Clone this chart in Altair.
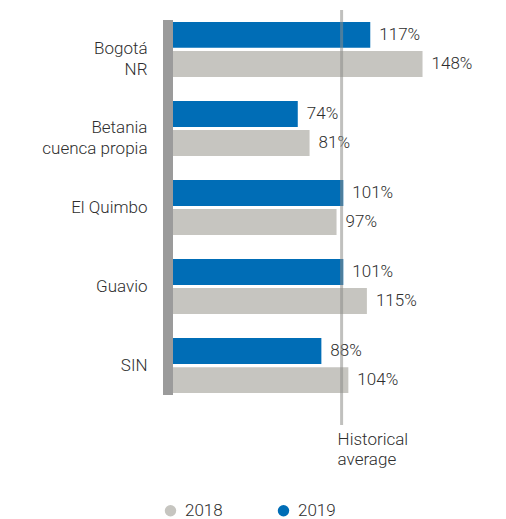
import altair as alt
import pandas as pd

categories = ["Bogotá|NR", "Betania|cuenca propia", "El Quimbo", "Guavio", "SIN"]
years = ["2018", "2019"]
values_2018 = [148, 81, 97, 115, 104]
values_2019 = [117, 74, 101, 101, 88]
avg_value = 100
avg_label = "Historical|average"

rows = []
for c, a, b in zip(categories, values_2018, values_2019):
    rows.append({"cat": c, "year": "2019", "value": b, "label": f"{b}%"})
    rows.append({"cat": c, "year": "2018", "value": a, "label": f"{a}%"})
df = pd.DataFrame(rows)

FONT = "Roboto"
FW = 300
FS = 17
TXT = "#2E2E2E"

y_enc = alt.Y("cat:N", sort=categories,
              scale=alt.Scale(paddingInner=0.304, paddingOuter=0.025),
              axis=alt.Axis(title=None, domain=False, ticks=False, labelPadding=26,
                            labelFontSize=FS, labelFont=FONT, labelFontWeight=FW,
                            labelColor=TXT,
                            labelExpr="split(datum.label, '|')", labelLineHeight=21))
yoff = alt.YOffset("year:N", sort=["2019", "2018"], scale=alt.Scale(paddingInner=0.11))
x_scale = alt.Scale(domain=[0, 172])

base = alt.Chart(df)

bars = base.mark_bar().encode(
    x=alt.X("value:Q", scale=x_scale, axis=None),
    y=y_enc,
    yOffset=yoff,
    color=alt.Color("year:N", scale=alt.Scale(domain=years, range=["#C6C5C0", "#006DB6"]),
                    legend=alt.Legend(title=None, orient="none", legendX=-11, legendY=482,
                                      direction="horizontal", symbolType="circle",
                                      symbolSize=130, labelFontSize=FS, labelFont=FONT,
                                      labelFontWeight=FW,
                                      labelColor=TXT, columnPadding=52, labelOffset=6)),
)

labels = base.mark_text(align="left", baseline="middle", dx=9, fontSize=FS,
                        font=FONT, fontWeight=FW, color=TXT).encode(
    x=alt.X("value:Q", scale=x_scale),
    y=alt.Y("cat:N", sort=categories),
    yOffset=yoff,
    text="label:N",
)

thick = alt.Chart(pd.DataFrame({"a": [0]})).mark_rule(color="#9B9B9B", strokeWidth=10).encode(
    x=alt.value(-5), y=alt.value(0), y2=alt.value(375)
)

avg_rule = alt.Chart(pd.DataFrame({"a": [0]})).mark_rule(
    color="#8C8C88", strokeWidth=3, opacity=0.55).encode(
    x=alt.datum(avg_value, scale=x_scale), y=alt.value(-10), y2=alt.value(405)
)

avg_text = alt.Chart(pd.DataFrame({"t": [avg_label]})).mark_text(
    align="left", baseline="top", dx=-4, fontSize=FS, font=FONT, fontWeight=FW,
    color=TXT, lineHeight=20
).encode(
    x=alt.datum(avg_value, scale=x_scale), y=alt.value(412),
    text=alt.Text("t:N"),
).transform_calculate(t="split(datum.t, '|')")

chart = alt.layer(bars, labels, thick, avg_rule, avg_text).properties(
    width=290, height=375,
    padding={"left": 33, "top": 0, "right": 5, "bottom": 0},
).configure_view(stroke=None)

chart.save("out.html", embed_options={"renderer": "svg", "actions": False})
